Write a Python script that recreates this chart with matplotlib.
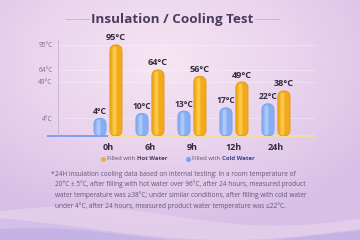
import matplotlib

matplotlib.use("Agg")
import matplotlib.pyplot as plt
import numpy as np
from matplotlib.colors import LinearSegmentedColormap
from matplotlib.patches import FancyBboxPatch

plt.rcParams["font.family"] = ["Open Sans", "DejaVu Sans"]

hours = ["0h", "6h", "9h", "12h", "24h"]
hot_water = [95, 64, 56, 49, 38]
cold_water = [4, 10, 13, 17, 22]
tick_values = [4, 49, 64, 95]
tick_labels = ["4°C", "49°C", "64°C", "95°C"]

FOOTNOTE = (
    "24H insulation cooling data based on internal testing: In a room temperature of\n"
    "20°C ± 5°C, after filling with hot water over 96°C, after 24 hours, measured product\n"
    "water temperature was ≥38°C; under similar conditions, after filling with cold water\n"
    "under 4°C, after 24 hours, measured product water temperature was ≤22°C."
)

W, H = 360, 240
fig = plt.figure(figsize=(W / 100, H / 100), dpi=100)

# background gradient + soft waves
bg = fig.add_axes([0, 0, 1, 1])
bg.set_axis_off()
yy, xx = np.mgrid[0:1:120j, 0:1:180j]
dist = np.sqrt(((xx - 0.45) / 0.9) ** 2 + ((yy - 0.25) / 0.9) ** 2)
bg_cmap = LinearSegmentedColormap.from_list("bg", ["#f6e6f2", "#ead4ee", "#d8bfe6"])
bg.imshow(dist, cmap=bg_cmap, extent=[0, 1, 1, 0], aspect="auto", vmin=0, vmax=0.8)
bg.set_xlim(0, 1)
bg.set_ylim(1, 0)
wx = np.linspace(0, 1, 200)
bg.fill_between(wx, 0.9 - 0.04 * np.sin(wx * 5.5 + 0.5), 1, color="#eedcf0", alpha=0.45, lw=0)
bg.fill_between(wx, 0.95 - 0.05 * np.sin(wx * 4 + 2.2), 1, color="#c4b0e6", alpha=0.45, lw=0)
bg.fill_between(wx, 0.98 - 0.03 * np.sin(wx * 6 + 1.0), 1, color="#b8a6e4", alpha=0.45, lw=0)

# title with side rules
fig.text(172 / W, 1 - 19 / H, "Insulation / Cooling Test", ha="center", va="center",
         fontsize=9.7, fontweight="bold", color="#4a3d5c")
for x0, x1 in [(66, 89), (255, 279)]:
    bg.plot([x0 / W, x1 / W], [19 / H, 19 / H], color="#c6b0d4", lw=0.6)

# chart
ax = fig.add_axes([58 / W, 1 - 136 / H, (315 - 58) / W, (136 - 40) / H])
ax.patch.set_alpha(0)
bottom = -18
ax.set_ylim(bottom, 101)
ax.set_xlim(-1.19, 4.93)
x = np.arange(len(hours))
off, wid = 0.19, 0.29

hot_bars = ax.bar(x + off, np.array(hot_water) - bottom, bottom=bottom, width=wid)
cold_bars = ax.bar(x - off, np.array(cold_water) - bottom, bottom=bottom, width=wid)

fig.canvas.draw()
bb = ax.get_window_extent()
aspect = (119 / bb.height) / (6.12 / bb.width)


def round_bars(bars, face, light, edge):
    for rect in bars:
        rect.set_visible(False)
        bx, by, bw, bh = rect.get_x(), rect.get_y(), rect.get_width(), rect.get_height()
        r = bw / 2
        ax.add_patch(FancyBboxPatch((bx, by), bw, bh, boxstyle=f"round,pad=0,rounding_size={r}",
                                    mutation_aspect=aspect, fc=face, ec=edge, lw=0.6, zorder=3))
        hw = bw * 0.32
        ax.add_patch(FancyBboxPatch((bx + bw * 0.22, by + 1), hw, bh - 3,
                                    boxstyle=f"round,pad=0,rounding_size={hw / 2}",
                                    mutation_aspect=aspect, fc=light, ec="none", alpha=0.75, zorder=4))


round_bars(hot_bars, "#f2a91a", "#ffd25a", "#e39a10")
round_bars(cold_bars, "#86aef2", "#b9d2fb", "#7aa2ea")

for xi, v in zip(x, hot_water):
    ax.text(xi + off, v + 3, f"{v}°C", ha="center", va="bottom", fontsize=6.6,
            color="#352c3e", fontweight="bold", zorder=5)
for xi, v in zip(x, cold_water):
    ax.text(xi - off, v + 3, f"{v}°C", ha="center", va="bottom", fontsize=6.1,
            color="#352c3e", fontweight="bold", zorder=5)

ax.set_yticks(tick_values, tick_labels)
ax.tick_params(axis="y", length=0, labelsize=4.7, labelcolor="#7a6c86", pad=4)
ax.set_xticks(x, hours)
ax.tick_params(axis="x", length=0, labelsize=6.5, labelcolor="#352c3e", pad=5)
for lab in ax.get_xticklabels():
    lab.set_fontweight("bold")
for v in tick_values:
    ax.axhline(v, color="white", lw=0.5, alpha=0.45, zorder=1)
for s in ["top", "right", "bottom"]:
    ax.spines[s].set_visible(False)
ax.spines["left"].set_color("#c4b4d2")
ax.spines["left"].set_linewidth(0.6)
ax.axhline(bottom, xmin=-0.04, xmax=0.2, color="#7d9ff0", lw=1.4, clip_on=False, zorder=2)
ax.axhline(bottom, xmin=0.2, xmax=1.0, color="#f3df9a", lw=1.4, clip_on=False, zorder=2)

# legend
leg_y = 1 - 159 / H
for mx, col, bold, bcol in [(103, "#f2b32a", "Hot Water", "#4a3d5c"),
                            (188, "#7fa6ee", "Cold Water", "#3f3f94")]:
    bg.plot(mx / W, 159 / H, "o", ms=3.8, color=col, mec="none")
    t = fig.text((mx + 4) / W, leg_y, "Filled with ", ha="left", va="center",
                 fontsize=4.3, color="#5e5068")
    fig.canvas.draw()
    ext = t.get_window_extent()
    fig.text(ext.x1 / W, leg_y, bold, ha="left", va="center", fontsize=4.3,
             fontweight="bold", color=bcol)

# footnote
fig.text(51 / W, 1 - 171 / H, "*", fontsize=4.7, color="#6a5a78", va="top")
fig.text(55 / W, 1 - 170.5 / H, FOOTNOTE, ha="left", va="top", fontsize=4.7,
         color="#65557a", linespacing=1.55)

fig.savefig("out.png", dpi=100)
